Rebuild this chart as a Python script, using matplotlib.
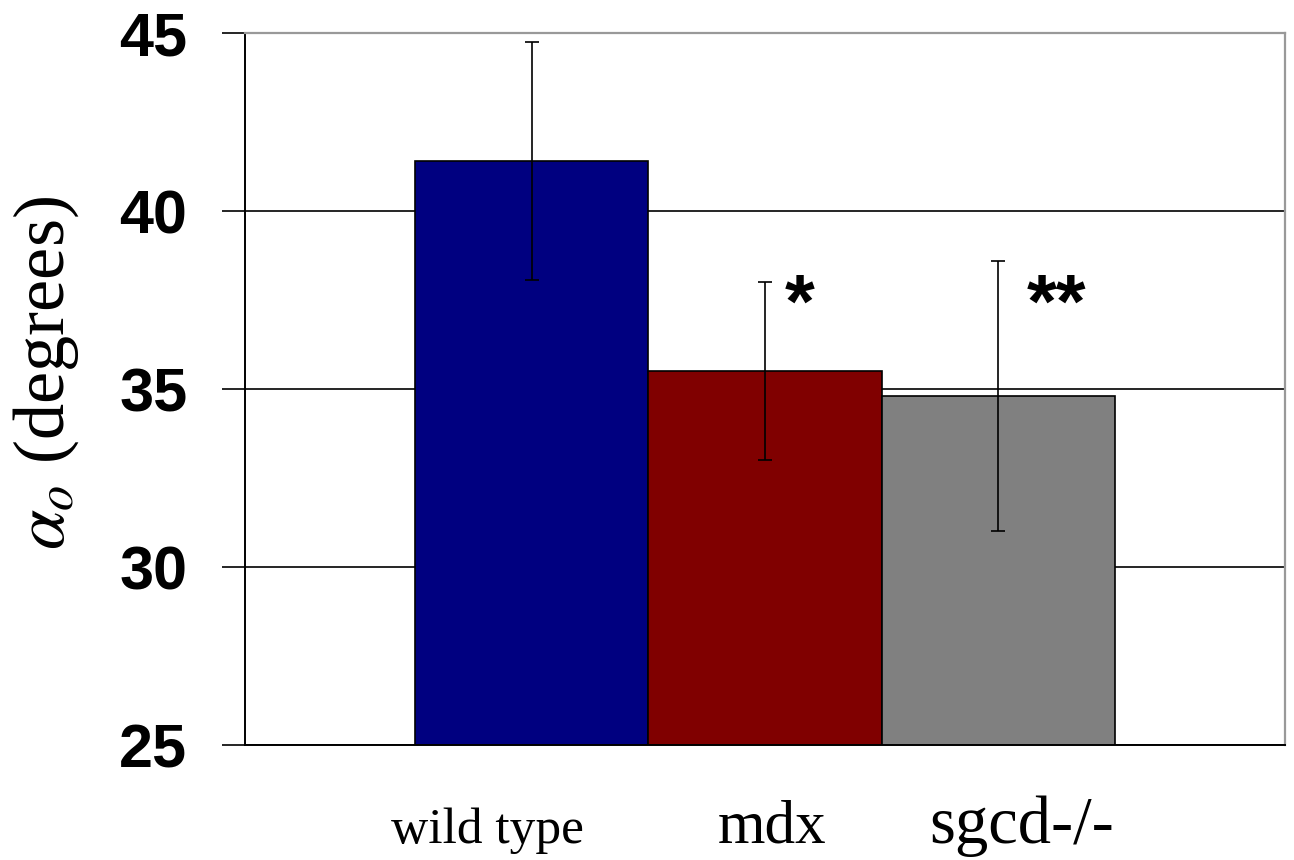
import matplotlib
matplotlib.use("Agg")
import matplotlib.pyplot as plt
import numpy as np

# values
groups = ["wild type", "mdx", "sgcd-/-"]
means = [41.4, 35.5, 34.8]
errors = [3.35, 2.5, 3.8]
colors = ["#000080", "#800000", "#808080"]
stars = ["", "*", "**"]

# label layout (the original labels sit a little off the bar centres)
label_sizes = [37, 44, 48]
label_shift = [-0.19, 0.03, 0.10]
star_shift = [0.0, 0.15, 0.25]
star_y = 37.3

plt.rcParams["mathtext.fontset"] = "stix"

fig = plt.figure(figsize=(12.94, 8.6), dpi=100)
ax = fig.add_axes([245 / 1294, 115 / 860, 1040 / 1294, 712 / 860])

x = np.arange(len(groups))
ax.bar(x, means, width=1.0, color=colors, edgecolor="black", linewidth=1.2, zorder=2)
ax.errorbar(x, means, yerr=errors, fmt="none", ecolor="black", elinewidth=1.2,
            capsize=4.7, capthick=1.2, zorder=3)

ax.set_xlim(-1.23, 3.23)
ax.set_ylim(25, 45)
ax.set_yticks([25, 30, 35, 40, 45])
ax.yaxis.grid(True, color="black", linewidth=1.2, zorder=0)
ax.set_axisbelow(True)

ax.set_xticks([])
ax.tick_params(axis="y", direction="out", length=16.5, width=1.2, pad=25)
for lab in ax.get_yticklabels():
    lab.set_fontfamily("Liberation Sans")
    lab.set_fontweight("bold")
    lab.set_fontsize(44)

for side in ["left", "bottom"]:
    ax.spines[side].set_color("black")
    ax.spines[side].set_linewidth(1.4)
for side in ["top", "right"]:
    ax.spines[side].set_color("#999999")
    ax.spines[side].set_linewidth(1.6)

# category labels under the bars
for i, g in enumerate(groups):
    ax.text(x[i] + label_shift[i], -0.137, g, transform=ax.get_xaxis_transform(),
            ha="center", va="baseline", fontfamily="Liberation Serif",
            fontsize=label_sizes[i])

# significance stars
for i, s in enumerate(stars):
    if s:
        ax.text(x[i] + star_shift[i], star_y, s, ha="center", va="center",
                fontfamily="Liberation Sans", fontweight="bold", fontsize=55)

fig.text(46 / 1294, 1 - 373 / 860, r"$\alpha_o$ (degrees)", rotation=90,
         ha="center", va="center", fontfamily="Liberation Serif", fontsize=52)

fig.savefig("out.png", dpi=100, facecolor="white")
